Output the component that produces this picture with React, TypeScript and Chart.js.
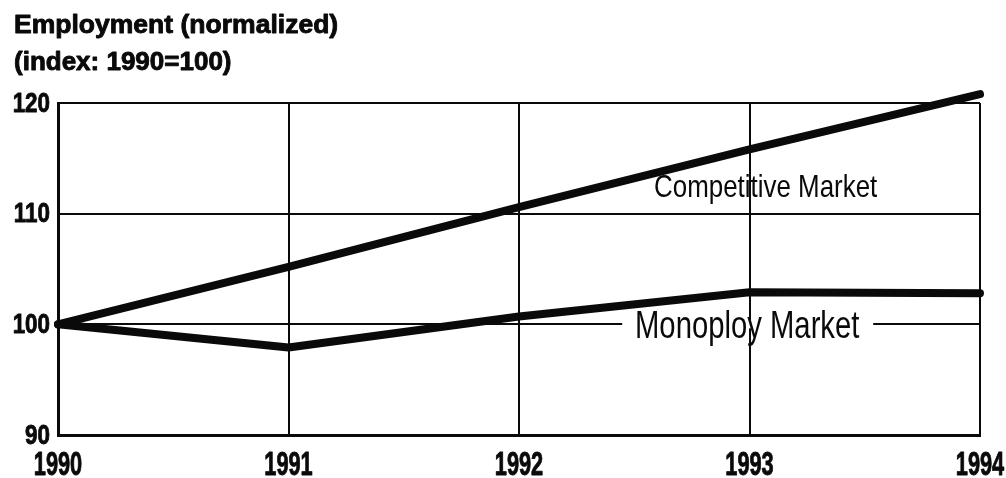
import React, { useEffect, useRef } from 'react';
import { Chart, registerables } from 'chart.js';

Chart.register(...registerables);

// ---- data ----
const years = ['1990', '1991', '1992', '1993', '1994'];
const competitive = [100, 105.2, 110.6, 115.8, 120.8];
const monopoly = [100, 97.9, 100.7, 102.9, 102.8];
const yTicks = [90, 100, 110, 120];
const titleLines = ['Employment (normalized)', '(index: 1990=100)'];
const seriesNames = ['Competitive Market', 'Monoploy Market'];
// label anchors in data coordinates (x = category index, y = index value)
const labelAnchorX = [3.07, 2.99];
const labelAnchorY = [112.3, 99.7];

const SANS = "'Liberation Sans', Arial, 'DejaVu Sans', sans-serif";
const INK = '#0a0a0a';

function squeezedText(ctx: any, text: string, x: number, y: number, sx: number, align: string, heavy = false) {
  ctx.save();
  ctx.translate(x, y);
  ctx.scale(sx, 1);
  ctx.textAlign = align;
  ctx.fillText(text, 0, 0);
  if (heavy) {
    ctx.lineWidth = 0.9;
    ctx.strokeStyle = INK;
    ctx.lineJoin = 'round';
    ctx.strokeText(text, 0, 0);
  }
  ctx.restore();
}

const textPlugin = {
  id: 'textPlugin',
  beforeDatasetsDraw(chart: any) {
    const { ctx, scales } = chart;
    const x = scales.x;
    const y = scales.y;
    // break in the 100 gridline behind the monopoly label
    const cx = x.getPixelForValue(labelAnchorX[1]);
    const gy = y.getPixelForValue(100);
    ctx.save();
    ctx.fillStyle = '#ffffff';
    ctx.fillRect(cx - 125, gy - 4, 251, 8);
    ctx.restore();
  },
  afterDraw(chart: any) {
    const { ctx, scales, chartArea } = chart;
    const x = scales.x;
    const y = scales.y;
    ctx.save();
    ctx.fillStyle = INK;

    // title
    ctx.textBaseline = 'alphabetic';
    ctx.font = `bold 26px ${SANS}`;
    squeezedText(ctx, titleLines[0], 14, 33, 1.02, 'left', true);
    squeezedText(ctx, titleLines[1], 14, 70, 1.0, 'left', true);

    // y tick labels
    ctx.textBaseline = 'middle';
    ctx.font = `bold 28px ${SANS}`;
    y.ticks.forEach((t: any) => {
      squeezedText(ctx, String(t.value), chartArea.left - 8, y.getPixelForValue(t.value) + 1, 0.8, 'right', true);
    });

    // x tick labels
    ctx.font = `bold 33px ${SANS}`;
    x.ticks.forEach((t: any, i: number) => {
      squeezedText(ctx, String(x.getLabelForValue(t.value)), x.getPixelForTick(i), chartArea.bottom + 31, 0.66, 'center', true);
    });

    // series labels
    ctx.font = `32px ${SANS}`;
    squeezedText(ctx, seriesNames[0], x.getPixelForValue(labelAnchorX[0]), y.getPixelForValue(labelAnchorY[0]), 0.81, 'center');
    ctx.font = `38px ${SANS}`;
    squeezedText(ctx, seriesNames[1], x.getPixelForValue(labelAnchorX[1]), y.getPixelForValue(labelAnchorY[1]), 0.77, 'center');
    ctx.restore();
  },
};

export default function App() {
  const ref = useRef<HTMLCanvasElement | null>(null);

  useEffect(() => {
    if (!ref.current) return;
    const lineStyle = {
      borderColor: INK,
      borderWidth: 8,
      pointRadius: 0,
      tension: 0,
      clip: false as any,
      borderCapStyle: 'round',
      borderJoinStyle: 'round',
    };
    const chart = new Chart(ref.current, {
      type: 'line',
      data: {
        labels: years,
        datasets: [
          { label: seriesNames[0], data: competitive, ...lineStyle },
          { label: seriesNames[1], data: monopoly, ...lineStyle },
        ],
      },
      options: {
        responsive: false,
        animation: false,
        layout: { padding: { left: 0, right: 26, top: 103, bottom: 0 } },
        plugins: {
          legend: { display: false },
          tooltip: { enabled: false },
          title: { display: false },
        },
        scales: {
          x: {
            type: 'category',
            offset: false,
            grid: { color: INK, lineWidth: 2, drawTicks: false },
            border: { display: true, color: INK, width: 3 },
            ticks: { display: false, autoSkip: false, maxRotation: 0 },
            afterFit: (s: any) => {
              s.height = 43;
            },
          },
          y: {
            type: 'linear',
            min: 90,
            max: 120,
            grid: { color: INK, lineWidth: 2, drawTicks: false },
            border: { display: true, color: INK, width: 3 },
            afterBuildTicks: (s: any) => {
              s.ticks = yTicks.map((v) => ({ value: v }));
            },
            ticks: { display: false },
            afterFit: (s: any) => {
              s.width = 58;
            },
          },
        },
      },
      plugins: [textPlugin],
    } as any);
    return () => chart.destroy();
  }, []);

  return (
    <div style={{ position: 'fixed', left: 0, top: 0, width: 1006, height: 478, background: '#fff' }}>
      <canvas ref={ref} width={1006} height={478} style={{ display: 'block' }} />
    </div>
  );
}
